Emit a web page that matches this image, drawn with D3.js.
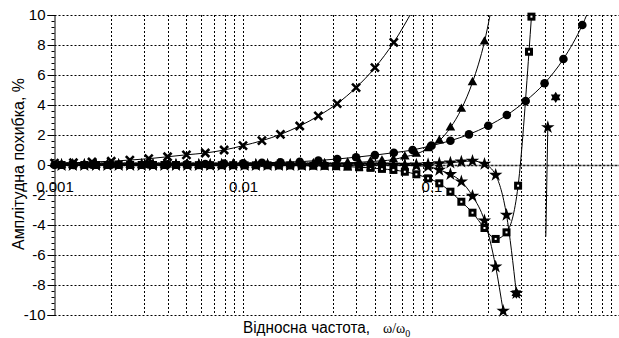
<!DOCTYPE html>
<html>
<head>
<meta charset="utf-8">
<script src="https://cdn.jsdelivr.net/npm/d3@7"></script>
<style>
  html, body { margin: 0; padding: 0; background: #fff; }
  svg { display: block; }
  text { font-family: "Liberation Sans", Arial, sans-serif; fill: #000; }
</style>
</head>
<body>
<svg id="chart" width="619" height="338"></svg>
<script>
// Relative frequency grid, ten points per decade
const decadeFreq = [0.001, 0.00126, 0.00158, 0.002, 0.00251, 0.00316, 0.00398, 0.00501, 0.00631, 0.00794,
                    0.01, 0.0126, 0.0158, 0.02, 0.0251, 0.0316, 0.0398, 0.0501, 0.0631, 0.0794,
                    0.1, 0.126, 0.158, 0.2, 0.251, 0.316, 0.398, 0.501, 0.631, 0.794];
// Finer low-frequency grid shared by the triangle, square and star series
const fineFreq = [0.00109, 0.00125, 0.00144, 0.00166, 0.00191, 0.00219, 0.00252, 0.0029, 0.00333, 0.00383,
                  0.00441, 0.00507, 0.00583, 0.0067, 0.00771, 0.00887, 0.0102, 0.0117, 0.0135, 0.0155,
                  0.0178, 0.0205, 0.0236, 0.0271, 0.0312, 0.0359, 0.0413, 0.0475, 0.0546, 0.0628];

// Amplitude error, %
const crossValues = [0.12, 0.15, 0.2, 0.25, 0.33, 0.42, 0.55, 0.68, 0.8, 1.0,
                     1.29, 1.62, 2.04, 2.6, 3.27, 4.09, 5.16, 6.49, 8.18, 10.3];
const circleValues = [0.01, 0.01, 0.02, 0.02, 0.03, 0.03, 0.04, 0.05, 0.07, 0.09,
                      0.11, 0.15, 0.18, 0.22, 0.3, 0.4, 0.52, 0.66, 0.82, 1.0,
                      1.29, 1.62, 2.04, 2.62, 3.33, 4.27, 5.45, 7.07, 9.33, 12.5];

const triangleLow = [0, 0, 0, 0, 0, 0, 0, 0, 0, 0, 0, 0, 0, 0, 0.01, 0.01, 0.01, 0.01, 0.02, 0.03,
                     0.03, 0.04, 0.06, 0.08, 0.1, 0.14, 0.18, 0.23, 0.28, 0.36];
const triangleTailFreq = [0.0722, 0.0831, 0.0959, 0.11, 0.126, 0.144, 0.165, 0.191, 0.221];
const triangleTail = [0.55, 0.73, 1.11, 1.62, 2.49, 3.73, 5.51, 8.22, 12.3];

const squareLow = [0, 0, 0, 0, 0, 0, 0, 0, 0, 0, 0, 0, -0.01, -0.01, -0.01, -0.01, -0.02, -0.02, -0.02, -0.03,
                   -0.03, -0.04, -0.05, -0.06, -0.08, -0.11, -0.15, -0.19, -0.26, -0.33];
const squareTailFreq = [0.0722, 0.0831, 0.0959, 0.11, 0.126, 0.144, 0.165, 0.191, 0.219, 0.25, 0.288, 0.329, 0.339];
const squareTail = [-0.45, -0.62, -0.89, -1.22, -1.78, -2.45, -3.18, -4.2, -4.93, -4.49, -1.38, 7.55, 9.89];

const starALow = [0, 0, 0, 0, 0, 0, 0, 0, 0, 0, 0, 0, 0, 0, 0, 0, 0, 0, 0, 0,
                  0, 0, 0, 0, 0, 0, 0, 0, 0, 0];
const starATailFreq = [0.0722, 0.0831, 0.0959, 0.11, 0.126, 0.144, 0.165, 0.191, 0.219, 0.25, 0.282];
const starATail = [0.0, 0.02, 0.05, 0.11, 0.15, 0.22, 0.27, 0.07, -0.67, -3.33, -8.55];

const starBLow = [0, 0, 0, 0, 0, 0, 0, 0, 0, 0, 0, 0, 0, 0, 0, 0, 0, 0, 0, 0,
                  0, 0, 0, 0, 0, 0, 0, 0, 0, -0.01];
const starBTailFreq = [0.0722, 0.0831, 0.0959, 0.11, 0.126, 0.144, 0.165, 0.191, 0.219, 0.24];
const starBTail = [-0.02, -0.05, -0.1, -0.33, -0.62, -1.11, -2.07, -3.71, -6.78, -9.73];

// Points past the resonance
const hexFreq = [0.282, 0.456];
const hexValues = [-8.55, 4.51];
const starCFreq = [0.414, 0.404];
const starCValues = [2.51, -4.78];

// Axis ticks
const yMajor = [-10, -8, -6, -4, -2, 0, 2, 4, 6, 8, 10];
const xLabelTicks = [0.001, 0.01, 0.1];
const xLabelText = ["0.001", "0.01", "0.1"];

const svg = d3.select("#chart");
const plotLeft = 54.5, plotRight = 620, plotTop = 15, plotBottom = 315;
const x = d3.scaleLog().domain([0.001, 1]).range([plotLeft, plotRight]);
const y = d3.scaleLinear().domain([-10, 10]).range([plotBottom, plotTop]);

const zip = (fs, vs) => vs.map((v, i) => ({ f: fs[i], v }));

// Grid
const grid = svg.append("g").attr("stroke", "#000").attr("stroke-width", 1)
  .attr("stroke-dasharray", "2,2").attr("fill", "none");
x.ticks().filter(t => t > 0.0011 && t < 1).forEach(t => {
  const px = Math.round(x(t)) + 0.5;
  grid.append("line").attr("x1", px).attr("x2", px).attr("y1", plotTop).attr("y2", plotBottom);
});
yMajor.filter(v => v !== 0).forEach(v => {
  const py = Math.round(y(v)) + 0.5;
  grid.append("line").attr("x1", plotLeft).attr("x2", 619).attr("y1", py).attr("y2", py);
});

// Zero line
svg.append("line").attr("x1", plotLeft).attr("x2", 619)
  .attr("y1", y(0) + 0.5).attr("y2", y(0) + 0.5)
  .attr("stroke", "#222").attr("stroke-width", 1.6).attr("stroke-dasharray", "3,1");

// Y axis: major ticks with labels, minor ticks every 0.4
const axisX = Math.round(plotLeft) - 0.5;
const yAxis = svg.append("g").attr("transform", `translate(${axisX},0)`)
  .call(d3.axisLeft(y).tickValues(yMajor).tickSize(7).tickPadding(2).tickFormat(d => String(d)));
yAxis.selectAll("text").style("font-size", "15px").style("font-family", "'Liberation Sans', Arial, sans-serif");
yAxis.select(".domain").attr("stroke", "#000");
const minorVals = d3.range(-10, 10.001, 0.4).map(v => +v.toFixed(1)).filter(v => !yMajor.includes(v));
svg.append("g").attr("transform", `translate(${axisX},0)`)
  .call(d3.axisLeft(y).tickValues(minorVals).tickSize(3).tickFormat(""))
  .select(".domain").remove();

// X tick labels along the zero line
const xAxis = svg.append("g").attr("transform", `translate(0,${y(0)})`)
  .call(d3.axisBottom(x).tickValues(xLabelTicks).tickSize(0).tickPadding(16)
    .tickFormat((d, i) => xLabelText[i]));
xAxis.select(".domain").remove();
xAxis.selectAll("text").style("font-size", "15px").style("font-family", "'Liberation Sans', Arial, sans-serif");

// Axis titles
svg.append("text").attr("transform", "translate(24,164) rotate(-90)")
  .attr("text-anchor", "middle").style("font-size", "16px")
  .attr("textLength", 172).attr("lengthAdjust", "spacingAndGlyphs")
  .text("Амплітудна похибка, %");
const xt = svg.append("text").attr("x", 243).attr("y", 333).style("font-size", "16px");
xt.append("tspan").attr("textLength", 127).attr("lengthAdjust", "spacingAndGlyphs").text("Відносна частота,");
xt.append("tspan").attr("dx", 13).style("font-family", "'Liberation Serif', 'Times New Roman', serif")
  .style("font-size", "14px").text("ω/ω");
xt.append("tspan").attr("dy", 4).style("font-family", "'Liberation Serif', 'Times New Roman', serif")
  .style("font-size", "10px").text("0");

// Series
const series = [
  { name: "cross", data: zip(decadeFreq, crossValues) },
  { name: "circle", data: zip(decadeFreq, circleValues) },
  { name: "triangle", data: zip(fineFreq.concat(triangleTailFreq), triangleLow.concat(triangleTail)) },
  { name: "square", data: zip(fineFreq.concat(squareTailFreq), squareLow.concat(squareTail)) },
  { name: "starA", data: zip(fineFreq.concat(starATailFreq), starALow.concat(starATail)) },
  { name: "starB", data: zip(fineFreq.concat(starBTailFreq), starBLow.concat(starBTail)) }
];
const hexData = zip(hexFreq, hexValues);
const starCData = zip(starCFreq, starCValues);

svg.append("clipPath").attr("id", "plot-clip")
  .append("rect").attr("x", plotLeft).attr("y", plotTop).attr("width", 619 - plotLeft).attr("height", plotBottom - plotTop);

const line = d3.line().x(d => x(d.f)).y(d => y(d.v)).curve(d3.curveMonotoneX);
const lines = svg.append("g").attr("clip-path", "url(#plot-clip)")
  .attr("fill", "none").attr("stroke", "#000").attr("stroke-width", 1);
series.forEach(s => lines.append("path").attr("d", line(s.data)));
lines.append("path").attr("d", d3.line().x(d => x(d.f)).y(d => y(d.v))(starCData));

// Markers are drawn only for points that fall inside the value range
const inside = d => d.v >= -10 && d.v <= 10;
const markers = svg.append("g");
const place = d => `translate(${x(d.f)},${y(d.v)})`;

const hexPath = (() => {
  const pts = [];
  for (let i = 0; i < 12; i++) {
    const r = i % 2 === 0 ? 5.6 : 3.4;
    const a = -Math.PI / 2 + i * Math.PI / 6;
    pts.push([r * Math.cos(a), r * Math.sin(a)]);
  }
  return "M" + pts.map(p => p.join(",")).join("L") + "Z";
})();

const draw = {
  circle: (g, d) => g.append("circle").attr("r", 4.3).attr("fill", "#000").attr("transform", place(d)),
  triangle: (g, d) => g.append("path").attr("d", d3.symbol(d3.symbolTriangle, 40)()).attr("fill", "#000").attr("transform", place(d)),
  square: (g, d) => {
    const s = g.append("g").attr("transform", place(d));
    s.append("rect").attr("x", -4).attr("y", -4).attr("width", 8).attr("height", 8).attr("fill", "#000");
    s.append("rect").attr("x", -1).attr("y", -1).attr("width", 2).attr("height", 2).attr("fill", "#fff");
  },
  starA: (g, d) => g.append("path").attr("d", d3.symbol(d3.symbolStar, 56)()).attr("fill", "#000").attr("transform", place(d)),
  starB: (g, d) => g.append("path").attr("d", d3.symbol(d3.symbolStar, 56)()).attr("fill", "#000").attr("transform", place(d)),
  cross: (g, d) => g.append("path").attr("d", "M-4,-4L4,4M-4,4L4,-4").attr("stroke", "#000")
    .attr("stroke-width", 2.6).attr("transform", place(d))
};
["circle", "triangle", "square", "starB", "starA", "cross"].forEach(name => {
  const s = series.find(o => o.name === name);
  s.data.filter(inside).forEach(d => draw[name](markers, d));
});
hexData.forEach(d => markers.append("path").attr("d", hexPath).attr("fill", "#000").attr("transform", place(d)));
starCData.slice(0, 1).forEach(d => draw.starA(markers, d));
</script>
</body>
</html>
